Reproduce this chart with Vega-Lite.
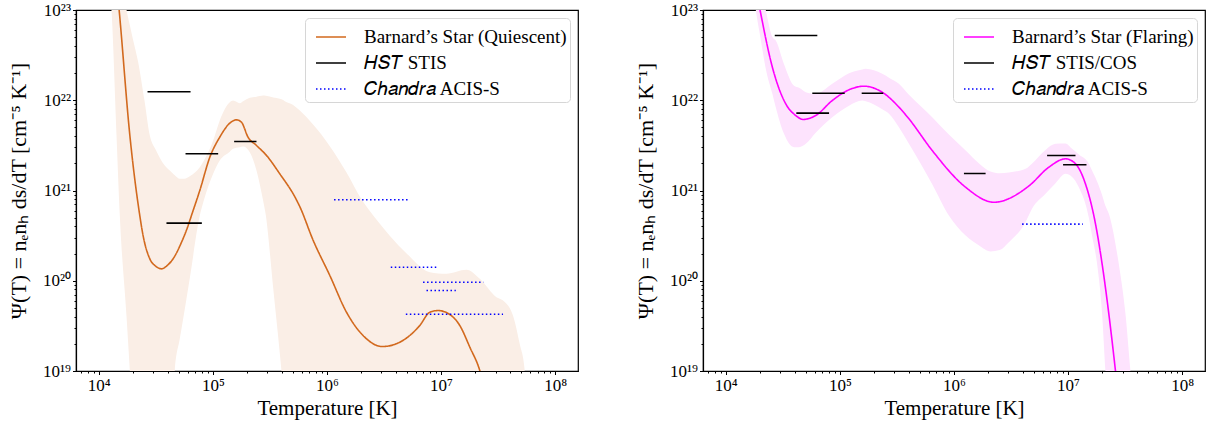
{
  "$schema": "https://vega.github.io/schema/vega-lite/v6.json",
  "background": "white",
  "padding": {"left": 6, "top": 0, "right": 5, "bottom": 5},
  "config": {
    "font": "Liberation Serif",
    "view": {"stroke": "black", "strokeWidth": 1.2},
    "axis": {
      "grid": false,
      "domainColor": "black",
      "domainWidth": 1.2,
      "tickColor": "black",
      "tickWidth": 1,
      "labelFont": "Liberation Serif",
      "labelFontSize": 17,
      "labelColor": "black",
      "labelOverlap": false,
      "titleFont": "Liberation Serif",
      "titleFontSize": 21,
      "titleFontWeight": "normal",
      "titleColor": "black"
    },
    "axisY": {"titleFontSize": 22},
    "legend": {
      "orient": "top-right",
      "offset": 8,
      "title": null,
      "fillColor": "rgba(255,255,255,0.85)",
      "strokeColor": "#d6d6d6",
      "cornerRadius": 4,
      "padding": 3,
      "labelFont": "Liberation Serif",
      "labelFontSize": 19,
      "labelColor": "black",
      "labelLimit": 0,
      "labelOffset": 17,
      "symbolOffset": 7,
      "symbolType": "stroke",
      "symbolSize": 900,
      "symbolStrokeWidth": 1.6,
      "rowPadding": -4
    }
  },
  "datasets": {
    "qcurve": [
      {"T": 1.380e4, "psi": 3.16e23, "series": "Barnard’s Star (Quiescent)"},
      {"T": 1.507e4, "psi": 1.0e23, "series": "Barnard’s Star (Quiescent)"},
      {"T": 1.871e4, "psi": 4.07e21, "series": "Barnard’s Star (Quiescent)"},
      {"T": 2.286e4, "psi": 5.28e20, "series": "Barnard’s Star (Quiescent)"},
      {"T": 2.443e4, "psi": 3.17e20, "series": "Barnard’s Star (Quiescent)"},
      {"T": 2.799e4, "psi": 1.750e20, "series": "Barnard’s Star (Quiescent)"},
      {"T": 3.162e4, "psi": 1.445e20, "series": "Barnard’s Star (Quiescent)"},
      {"T": 3.548e4, "psi": 1.355e20, "series": "Barnard’s Star (Quiescent)"},
      {"T": 3.981e4, "psi": 1.479e20, "series": "Barnard’s Star (Quiescent)"},
      {"T": 4.477e4, "psi": 1.750e20, "series": "Barnard’s Star (Quiescent)"},
      {"T": 5.309e4, "psi": 2.673e20, "series": "Barnard’s Star (Quiescent)"},
      {"T": 6.067e4, "psi": 4.093e20, "series": "Barnard’s Star (Quiescent)"},
      {"T": 6.486e4, "psi": 5.28e20, "series": "Barnard’s Star (Quiescent)"},
      {"T": 7.674e4, "psi": 1.0e21, "series": "Barnard’s Star (Quiescent)"},
      {"T": 9.397e4, "psi": 2.339e21, "series": "Barnard’s Star (Quiescent)"},
      {"T": 1.148e5, "psi": 3.899e21, "series": "Barnard’s Star (Quiescent)"},
      {"T": 1.406e5, "psi": 5.572e21, "series": "Barnard’s Star (Quiescent)"},
      {"T": 1.607e5, "psi": 6.067e21, "series": "Barnard’s Star (Quiescent)"},
      {"T": 1.778e5, "psi": 5.715e21, "series": "Barnard’s Star (Quiescent)"},
      {"T": 2.032e5, "psi": 3.899e21, "series": "Barnard’s Star (Quiescent)"},
      {"T": 2.410e5, "psi": 3.155e21, "series": "Barnard’s Star (Quiescent)"},
      {"T": 2.951e5, "psi": 2.443e21, "series": "Barnard’s Star (Quiescent)"},
      {"T": 3.855e5, "psi": 1.531e21, "series": "Barnard’s Star (Quiescent)"},
      {"T": 5.224e5, "psi": 8.511e20, "series": "Barnard’s Star (Quiescent)"},
      {"T": 5.781e5, "psi": 6.607e20, "series": "Barnard’s Star (Quiescent)"},
      {"T": 7.551e5, "psi": 2.818e20, "series": "Barnard’s Star (Quiescent)"},
      {"T": 1.059e6, "psi": 1.143e20, "series": "Barnard’s Star (Quiescent)"},
      {"T": 1.483e6, "psi": 4.477e19, "series": "Barnard’s Star (Quiescent)"},
      {"T": 2.070e6, "psi": 2.472e19, "series": "Barnard’s Star (Quiescent)"},
      {"T": 3.062e6, "psi": 1.866e19, "series": "Barnard’s Star (Quiescent)"},
      {"T": 4.345e6, "psi": 2.084e19, "series": "Barnard’s Star (Quiescent)"},
      {"T": 6.501e6, "psi": 3.192e19, "series": "Barnard’s Star (Quiescent)"},
      {"T": 7.962e6, "psi": 4.477e19, "series": "Barnard’s Star (Quiescent)"},
      {"T": 9.419e6, "psi": 4.677e19, "series": "Barnard’s Star (Quiescent)"},
      {"T": 1.191e7, "psi": 4.227e19, "series": "Barnard’s Star (Quiescent)"},
      {"T": 1.459e7, "psi": 3.192e19, "series": "Barnard’s Star (Quiescent)"},
      {"T": 1.786e7, "psi": 1.837e19, "series": "Barnard’s Star (Quiescent)"},
      {"T": 2.183e7, "psi": 1.012e19, "series": "Barnard’s Star (Quiescent)"},
      {"T": 2.512e7, "psi": 5.01e18, "series": "Barnard’s Star (Quiescent)"}
    ],
    "qband": [
      {"T": 1.122e4, "lo": 3.98e23, "hi": 6.31e24},
      {"T": 1.291e4, "lo": 1.0e23, "hi": 1.585e24},
      {"T": 1.429e4, "lo": 4.07e21, "hi": 5.62e23},
      {"T": 1.528e4, "lo": 5.25e20, "hi": 3.16e23},
      {"T": 1.750e4, "lo": 3.98e19, "hi": 1.0e23},
      {"T": 1.871e4, "lo": 1.0e19, "hi": 6.76e22},
      {"T": 1.995e4, "lo": 2.51e18, "hi": 4.68e22},
      {"T": 2.198e4, "lo": 3.16e17, "hi": 2.754e22},
      {"T": 2.512e4, "lo": 6.3e16, "hi": 1.0e22},
      {"T": 2.799e4, "lo": 3.16e16, "hi": 4.07e21},
      {"T": 3.162e4, "lo": 3.16e16, "hi": 2.818e21},
      {"T": 3.784e4, "lo": 1.585e17, "hi": 1.892e21},
      {"T": 4.365e4, "lo": 2.818e18, "hi": 1.585e21},
      {"T": 4.634e4, "lo": 1.0e19, "hi": 1.479e21},
      {"T": 5.129e4, "lo": 2.291e19, "hi": 1.349e21},
      {"T": 5.623e4, "lo": 4.571e19, "hi": 1.349e21},
      {"T": 6.310e4, "lo": 1.122e20, "hi": 1.445e21},
      {"T": 7.674e4, "lo": 5.284e20, "hi": 1.811e21},
      {"T": 8.318e4, "lo": 7.745e20, "hi": 2.138e21},
      {"T": 1.005e5, "lo": 1.531e21, "hi": 3.581e21},
      {"T": 1.148e5, "lo": 2.148e21, "hi": 5.970e21},
      {"T": 1.406e5, "lo": 2.692e21, "hi": 9.506e21},
      {"T": 1.503e5, "lo": 2.897e21, "hi": 9.931e21},
      {"T": 1.722e5, "lo": 3.020e21, "hi": 9.268e21},
      {"T": 1.841e5, "lo": 3.076e21, "hi": 9.772e21},
      {"T": 2.104e5, "lo": 2.655e21, "hi": 1.064e22},
      {"T": 2.410e5, "lo": 1.667e21, "hi": 1.096e22},
      {"T": 2.754e5, "lo": 7.745e20, "hi": 1.130e22},
      {"T": 2.911e5, "lo": 5.284e20, "hi": 1.122e22},
      {"T": 3.388e5, "lo": 7.943e19, "hi": 1.072e22},
      {"T": 3.855e5, "lo": 1.585e19, "hi": 1.038e22},
      {"T": 3.990e5, "lo": 1.0e19, "hi": 1.023e22},
      {"T": 4.266e5, "lo": 3.16e18, "hi": 9.772e21},
      {"T": 5.012e5, "lo": 3.16e16, "hi": 8.913e21},
      {"T": 5.781e5, "lo": 3.16e16, "hi": 7.691e21},
      {"T": 7.551e5, "lo": 3.16e16, "hi": 5.370e21},
      {"T": 1.047e6, "lo": 3.16e16, "hi": 3.162e21},
      {"T": 1.483e6, "lo": 3.16e16, "hi": 1.585e21},
      {"T": 2.018e6, "lo": 3.16e16, "hi": 7.889e20},
      {"T": 2.624e6, "lo": 3.16e16, "hi": 5.012e20},
      {"T": 3.548e6, "lo": 3.16e16, "hi": 3.162e20},
      {"T": 5.012e6, "lo": 3.16e16, "hi": 1.995e20},
      {"T": 7.962e6, "lo": 3.16e16, "hi": 1.245e20},
      {"T": 1.114e7, "lo": 3.16e16, "hi": 1.194e20},
      {"T": 1.667e7, "lo": 3.16e16, "hi": 1.321e20},
      {"T": 2.183e7, "lo": 3.16e16, "hi": 1.052e20},
      {"T": 3.055e7, "lo": 3.16e16, "hi": 6.577e19},
      {"T": 3.491e7, "lo": 3.16e16, "hi": 6.039e19},
      {"T": 4.266e7, "lo": 3.16e16, "hi": 4.121e19},
      {"T": 4.887e7, "lo": 3.16e16, "hi": 2.000e19},
      {"T": 5.408e7, "lo": 3.16e16, "hi": 1.0e19},
      {"T": 5.754e7, "lo": 3.16e16, "hi": 3.162e18}
    ],
    "qseg": [
      {"T1": 2.673e4, "T2": 6.368e4, "psi": 1.242e22, "series": "𝐻𝑆𝑇 STIS"},
      {"T1": 5.754e4, "T2": 1.112e5, "psi": 2.553e21, "series": "𝐻𝑆𝑇 STIS"},
      {"T1": 1.535e5, "T2": 2.410e5, "psi": 3.491e21, "series": "𝐻𝑆𝑇 STIS"},
      {"T1": 3.917e4, "T2": 7.998e4, "psi": 4.345e20, "series": "𝐻𝑆𝑇 STIS"},
      {"T1": 1.153e6, "T2": 5.082e6, "psi": 7.889e20, "series": "𝐶ℎ𝑎𝑛𝑑𝑟𝑎 ACIS-S"},
      {"T1": 3.622e6, "T2": 9.419e6, "psi": 1.413e20, "series": "𝐶ℎ𝑎𝑛𝑑𝑟𝑎 ACIS-S"},
      {"T1": 6.950e6, "T2": 2.344e7, "psi": 9.638e19, "series": "𝐶ℎ𝑎𝑛𝑑𝑟𝑎 ACIS-S"},
      {"T1": 7.447e6, "T2": 1.346e7, "psi": 7.798e19, "series": "𝐶ℎ𝑎𝑛𝑑𝑟𝑎 ACIS-S"},
      {"T1": 4.909e6, "T2": 3.491e7, "psi": 4.256e19, "series": "𝐶ℎ𝑎𝑛𝑑𝑟𝑎 ACIS-S"}
    ],
    "fcurve": [
      {"T": 1.738e4, "psi": 2.512e23, "series": "Barnard’s Star (Flaring)"},
      {"T": 1.995e4, "psi": 1.0e23, "series": "Barnard’s Star (Flaring)"},
      {"T": 2.559e4, "psi": 2.323e22, "series": "Barnard’s Star (Flaring)"},
      {"T": 3.350e4, "psi": 9.141e21, "series": "Barnard’s Star (Flaring)"},
      {"T": 4.102e4, "psi": 6.776e21, "series": "Barnard’s Star (Flaring)"},
      {"T": 4.753e4, "psi": 6.124e21, "series": "Barnard’s Star (Flaring)"},
      {"T": 6.138e4, "psi": 6.776e21, "series": "Barnard’s Star (Flaring)"},
      {"T": 8.570e4, "psi": 9.931e21, "series": "Barnard’s Star (Flaring)"},
      {"T": 1.202e5, "psi": 1.306e22, "series": "Barnard’s Star (Flaring)"},
      {"T": 1.626e5, "psi": 1.432e22, "series": "Barnard’s Star (Flaring)"},
      {"T": 2.350e5, "psi": 1.227e22, "series": "Barnard’s Star (Flaring)"},
      {"T": 3.289e5, "psi": 8.395e21, "series": "Barnard’s Star (Flaring)"},
      {"T": 4.027e5, "psi": 6.223e21, "series": "Barnard’s Star (Flaring)"},
      {"T": 6.442e5, "psi": 2.773e21, "series": "Barnard’s Star (Flaring)"},
      {"T": 1.262e6, "psi": 1.089e21, "series": "Barnard’s Star (Flaring)"},
      {"T": 2.234e6, "psi": 7.413e20, "series": "Barnard’s Star (Flaring)"},
      {"T": 4.529e6, "psi": 1.122e21, "series": "Barnard’s Star (Flaring)"},
      {"T": 6.776e6, "psi": 1.811e21, "series": "Barnard’s Star (Flaring)"},
      {"T": 9.484e6, "psi": 2.244e21, "series": "Barnard’s Star (Flaring)"},
      {"T": 1.161e7, "psi": 1.977e21, "series": "Barnard’s Star (Flaring)"},
      {"T": 1.419e7, "psi": 1.186e21, "series": "Barnard’s Star (Flaring)"},
      {"T": 1.738e7, "psi": 4.276e20, "series": "Barnard’s Star (Flaring)"},
      {"T": 1.986e7, "psi": 1.542e20, "series": "Barnard’s Star (Flaring)"},
      {"T": 2.275e7, "psi": 4.305e19, "series": "Barnard’s Star (Flaring)"},
      {"T": 2.600e7, "psi": 1.012e19, "series": "Barnard’s Star (Flaring)"},
      {"T": 2.818e7, "psi": 3.981e18, "series": "Barnard’s Star (Flaring)"}
    ],
    "fband": [
      {"T": 1.585e4, "lo": 5.012e23, "hi": 1.995e24},
      {"T": 1.832e4, "lo": 1.0e23, "hi": 5.012e23},
      {"T": 1.995e4, "lo": 5.248e22, "hi": 1.995e23},
      {"T": 2.239e4, "lo": 2.239e22, "hi": 1.0e23},
      {"T": 2.559e4, "lo": 1.178e22, "hi": 5.012e22},
      {"T": 2.742e4, "lo": 8.318e21, "hi": 4.592e22},
      {"T": 3.236e4, "lo": 4.246e21, "hi": 2.512e22},
      {"T": 3.963e4, "lo": 3.020e21, "hi": 1.445e22},
      {"T": 4.385e4, "lo": 3.020e21, "hi": 1.374e22},
      {"T": 5.023e4, "lo": 3.289e21, "hi": 1.230e22},
      {"T": 6.138e4, "lo": 4.365e21, "hi": 1.178e22},
      {"T": 8.570e4, "lo": 6.486e21, "hi": 1.521e22},
      {"T": 1.202e5, "lo": 8.710e21, "hi": 1.995e22},
      {"T": 1.570e5, "lo": 9.931e21, "hi": 2.188e22},
      {"T": 1.683e5, "lo": 9.772e21, "hi": 2.228e22},
      {"T": 2.350e5, "lo": 7.943e21, "hi": 1.963e22},
      {"T": 2.692e5, "lo": 7.079e21, "hi": 1.778e22},
      {"T": 3.289e5, "lo": 5.012e21, "hi": 1.521e22},
      {"T": 4.027e5, "lo": 3.289e21, "hi": 1.148e22},
      {"T": 6.442e5, "lo": 1.175e21, "hi": 6.486e21},
      {"T": 9.016e5, "lo": 5.284e20, "hi": 4.169e21},
      {"T": 1.265e6, "lo": 3.170e20, "hi": 2.773e21},
      {"T": 1.660e6, "lo": 2.455e20, "hi": 1.995e21},
      {"T": 2.089e6, "lo": 2.109e20, "hi": 1.622e21},
      {"T": 2.512e6, "lo": 2.188e20, "hi": 1.549e21},
      {"T": 3.027e6, "lo": 2.673e20, "hi": 1.585e21},
      {"T": 4.236e6, "lo": 4.457e20, "hi": 1.738e21},
      {"T": 4.842e6, "lo": 6.310e20, "hi": 1.995e21},
      {"T": 6.339e6, "lo": 9.183e20, "hi": 2.818e21},
      {"T": 7.762e6, "lo": 1.202e21, "hi": 3.289e21},
      {"T": 9.484e6, "lo": 1.531e21, "hi": 3.311e21},
      {"T": 1.084e7, "lo": 1.413e21, "hi": 2.897e21},
      {"T": 1.242e7, "lo": 1.089e21, "hi": 2.512e21},
      {"T": 1.517e7, "lo": 5.058e20, "hi": 1.995e21},
      {"T": 1.622e7, "lo": 3.162e20, "hi": 1.667e21},
      {"T": 1.795e7, "lo": 1.542e20, "hi": 1.259e21},
      {"T": 1.986e7, "lo": 4.305e19, "hi": 8.913e20},
      {"T": 2.123e7, "lo": 1.012e19, "hi": 6.761e20},
      {"T": 2.275e7, "lo": 3.162e18, "hi": 5.521e20},
      {"T": 2.780e7, "lo": 3.162e17, "hi": 1.542e20},
      {"T": 3.184e7, "lo": 1.0e17, "hi": 4.305e19},
      {"T": 3.516e7, "lo": 3.162e16, "hi": 1.012e19},
      {"T": 3.981e7, "lo": 1.0e16, "hi": 1.995e18}
    ],
    "fseg": [
      {"T1": 2.685e4, "T2": 6.339e4, "psi": 5.212e22, "series": "𝐻𝑆𝑇 STIS/COS"},
      {"T1": 5.728e4, "T2": 1.102e5, "psi": 1.197e22, "series": "𝐻𝑆𝑇 STIS/COS"},
      {"T1": 4.150e4, "T2": 8.035e4, "psi": 7.194e21, "series": "𝐻𝑆𝑇 STIS/COS"},
      {"T1": 1.552e5, "T2": 2.399e5, "psi": 1.197e22, "series": "𝐻𝑆𝑇 STIS/COS"},
      {"T1": 1.222e6, "T2": 1.892e6, "psi": 1.542e21, "series": "𝐻𝑆𝑇 STIS/COS"},
      {"T1": 6.546e6, "T2": 1.161e7, "psi": 2.443e21, "series": "𝐻𝑆𝑇 STIS/COS"},
      {"T1": 9.036e6, "T2": 1.449e7, "psi": 1.928e21, "series": "𝐻𝑆𝑇 STIS/COS"},
      {"T1": 3.954e6, "T2": 1.346e7, "psi": 4.236e20, "series": "𝐶ℎ𝑎𝑛𝑑𝑟𝑎 ACIS-S"}
    ]
  },
  "spacing": 125,
  "bounds": "flush",
  "resolve": {"scale": {"color": "independent", "strokeDash": "independent"}},
  "hconcat": [
    {
      "width": 502,
      "height": 361,
      "layer": [
        {
          "data": {"name": "qband"},
          "mark": {"type": "area", "color": "#faeee6", "clip": true, "interpolate": "monotone"},
          "encoding": {
            "x": {
              "field": "T", "type": "quantitative",
              "scale": {"type": "log", "domain": [6309.57, 158489319], "nice": false},
              "axis": {
                "title": "Temperature [K]",
                "values": [7000, 8000, 9000, 10000, 20000, 30000, 40000, 50000, 60000, 70000, 80000, 90000, 100000, 200000, 300000, 400000, 500000, 600000, 700000, 800000, 900000, 1000000, 2000000, 3000000, 4000000, 5000000, 6000000, 7000000, 8000000, 9000000, 10000000, 20000000, 30000000, 40000000, 50000000, 60000000, 70000000, 80000000, 90000000, 100000000],
                "labelExpr": "datum.value == 10000 ? '10⁴' : datum.value == 100000 ? '10⁵' : datum.value == 1000000 ? '10⁶' : datum.value == 10000000 ? '10⁷' : datum.value == 100000000 ? '10⁸' : ''",
                "tickSize": {"expr": "indexof([10000, 100000, 1000000, 10000000, 100000000], datum.value) < 0 ? 2 : 3.5"},
                "labelPadding": 3,
                "titlePadding": 4
              }
            },
            "y": {
              "field": "lo", "type": "quantitative",
              "scale": {"type": "log", "domain": [1e19, 1e23], "nice": false},
              "axis": {
                "title": "Ψ(T) = nₑnₕ ds/dT [cm⁻⁵ K⁻¹]",
                "values": [1e19, 2e19, 3e19, 4e19, 5e19, 6e19, 7e19, 8e19, 9e19, 1e20, 2e20, 3e20, 4e20, 5e20, 6e20, 7e20, 8e20, 9e20, 1e21, 2e21, 3e21, 4e21, 5e21, 6e21, 7e21, 8e21, 9e21, 1e22, 2e22, 3e22, 4e22, 5e22, 6e22, 7e22, 8e22, 9e22, 1e23],
                "labelExpr": "datum.value == 1e19 ? '10¹⁹' : datum.value == 1e20 ? '10²⁰' : datum.value == 1e21 ? '10²¹' : datum.value == 1e22 ? '10²²' : datum.value == 1e23 ? '10²³' : ''",
                "tickSize": {"expr": "indexof([1e19, 1e20, 1e21, 1e22, 1e23], datum.value) < 0 ? 2 : 3.5"},
                "labelPadding": 2,
                "titlePadding": 12
              }
            },
            "y2": {"field": "hi"}
          }
        },
        {
          "data": {"name": "qcurve"},
          "mark": {"type": "line", "strokeWidth": 1.6, "clip": true, "interpolate": "monotone"},
          "encoding": {
            "x": {"field": "T", "type": "quantitative"},
            "y": {"field": "psi", "type": "quantitative"},
            "color": {
              "field": "series", "type": "nominal",
              "scale": {"domain": ["Barnard’s Star (Quiescent)", "𝐻𝑆𝑇 STIS", "𝐶ℎ𝑎𝑛𝑑𝑟𝑎 ACIS-S"], "range": ["#d2691e", "black", "blue"]}
            },
            "strokeDash": {
              "field": "series", "type": "nominal",
              "scale": {"domain": ["Barnard’s Star (Quiescent)", "𝐻𝑆𝑇 STIS", "𝐶ℎ𝑎𝑛𝑑𝑟𝑎 ACIS-S"], "range": [[1, 0], [1, 0], [1.5, 2.5]]}
            }
          }
        },
        {
          "data": {"name": "qseg"},
          "mark": {"type": "rule", "strokeWidth": 1.6, "clip": true},
          "encoding": {
            "x": {"field": "T1", "type": "quantitative"},
            "x2": {"field": "T2"},
            "y": {"field": "psi", "type": "quantitative"},
            "color": {"field": "series", "type": "nominal"},
            "strokeDash": {"field": "series", "type": "nominal"}
          }
        }
      ]
    },
    {
      "width": 502,
      "height": 361,
      "layer": [
        {
          "data": {"name": "fband"},
          "mark": {"type": "area", "color": "#fde3fd", "clip": true, "interpolate": "monotone"},
          "encoding": {
            "x": {
              "field": "T", "type": "quantitative",
              "scale": {"type": "log", "domain": [6309.57, 158489319], "nice": false},
              "axis": {
                "title": "Temperature [K]",
                "values": [7000, 8000, 9000, 10000, 20000, 30000, 40000, 50000, 60000, 70000, 80000, 90000, 100000, 200000, 300000, 400000, 500000, 600000, 700000, 800000, 900000, 1000000, 2000000, 3000000, 4000000, 5000000, 6000000, 7000000, 8000000, 9000000, 10000000, 20000000, 30000000, 40000000, 50000000, 60000000, 70000000, 80000000, 90000000, 100000000],
                "labelExpr": "datum.value == 10000 ? '10⁴' : datum.value == 100000 ? '10⁵' : datum.value == 1000000 ? '10⁶' : datum.value == 10000000 ? '10⁷' : datum.value == 100000000 ? '10⁸' : ''",
                "tickSize": {"expr": "indexof([10000, 100000, 1000000, 10000000, 100000000], datum.value) < 0 ? 2 : 3.5"},
                "labelPadding": 3,
                "titlePadding": 4
              }
            },
            "y": {
              "field": "lo", "type": "quantitative",
              "scale": {"type": "log", "domain": [1e19, 1e23], "nice": false},
              "axis": {
                "title": "Ψ(T) = nₑnₕ ds/dT [cm⁻⁵ K⁻¹]",
                "values": [1e19, 2e19, 3e19, 4e19, 5e19, 6e19, 7e19, 8e19, 9e19, 1e20, 2e20, 3e20, 4e20, 5e20, 6e20, 7e20, 8e20, 9e20, 1e21, 2e21, 3e21, 4e21, 5e21, 6e21, 7e21, 8e21, 9e21, 1e22, 2e22, 3e22, 4e22, 5e22, 6e22, 7e22, 8e22, 9e22, 1e23],
                "labelExpr": "datum.value == 1e19 ? '10¹⁹' : datum.value == 1e20 ? '10²⁰' : datum.value == 1e21 ? '10²¹' : datum.value == 1e22 ? '10²²' : datum.value == 1e23 ? '10²³' : ''",
                "tickSize": {"expr": "indexof([1e19, 1e20, 1e21, 1e22, 1e23], datum.value) < 0 ? 2 : 3.5"},
                "labelPadding": 2,
                "titlePadding": 12
              }
            },
            "y2": {"field": "hi"}
          }
        },
        {
          "data": {"name": "fcurve"},
          "mark": {"type": "line", "strokeWidth": 1.6, "clip": true, "interpolate": "monotone"},
          "encoding": {
            "x": {"field": "T", "type": "quantitative"},
            "y": {"field": "psi", "type": "quantitative"},
            "color": {
              "field": "series", "type": "nominal",
              "scale": {"domain": ["Barnard’s Star (Flaring)", "𝐻𝑆𝑇 STIS/COS", "𝐶ℎ𝑎𝑛𝑑𝑟𝑎 ACIS-S"], "range": ["#ff00ff", "black", "blue"]}
            },
            "strokeDash": {
              "field": "series", "type": "nominal",
              "scale": {"domain": ["Barnard’s Star (Flaring)", "𝐻𝑆𝑇 STIS/COS", "𝐶ℎ𝑎𝑛𝑑𝑟𝑎 ACIS-S"], "range": [[1, 0], [1, 0], [1.5, 2.5]]}
            }
          }
        },
        {
          "data": {"name": "fseg"},
          "mark": {"type": "rule", "strokeWidth": 1.6, "clip": true},
          "encoding": {
            "x": {"field": "T1", "type": "quantitative"},
            "x2": {"field": "T2"},
            "y": {"field": "psi", "type": "quantitative"},
            "color": {"field": "series", "type": "nominal"},
            "strokeDash": {"field": "series", "type": "nominal"}
          }
        }
      ]
    }
  ]
}
